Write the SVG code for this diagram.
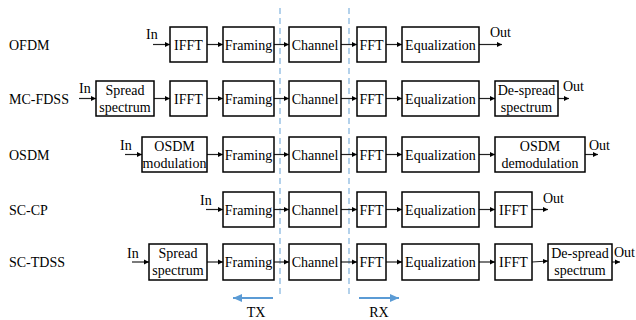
<svg xmlns="http://www.w3.org/2000/svg" width="636" height="320" viewBox="0 0 636 320" font-family="'Liberation Serif', 'Times New Roman', serif" font-size="14">
<defs>
<marker id="ah" markerWidth="6" markerHeight="6" refX="5" refY="3" orient="auto" markerUnits="userSpaceOnUse"><path d="M0,0.5 L5,3 L0,5.5 Z" fill="#000"/></marker>
<marker id="bh" markerWidth="10" markerHeight="8" refX="9" refY="4" orient="auto" markerUnits="userSpaceOnUse"><path d="M0,0 L9,4 L0,8 Z" fill="#5b9bd5"/></marker>
</defs>
<style>
text{font-family:'Liberation Serif','Times New Roman',serif;font-size:14px;fill:#000}
.c{text-anchor:middle}
.b{fill:#fff;stroke:#000;stroke-width:1.5}
.a{stroke:#222;stroke-width:1.2;fill:none;marker-end:url(#ah)}
.d{stroke:#8ab9e0;stroke-width:1.3;stroke-dasharray:6,4;fill:none}
.t{stroke:#5b9bd5;stroke-width:1.8;fill:none;marker-end:url(#bh)}
</style>
<rect width="636" height="320" fill="#fff"/>
<g id="labels">
<text x="9" y="50">OFDM</text>
<text x="9" y="104">MC-FDSS</text>
<text x="9" y="160">OSDM</text>
<text x="9" y="215">SC-CP</text>
<text x="9" y="267">SC-TDSS</text>
<text x="146" y="39">In</text><text x="490" y="37">Out</text>
<text x="79" y="93">In</text><text x="563" y="91">Out</text>
<text x="120" y="150">In</text><text x="589" y="150">Out</text>
<text x="200" y="205">In</text><text x="543" y="203">Out</text>
<text x="127" y="258">In</text><text x="614" y="257">Out</text>
<text x="256" y="317" class="c">TX</text>
<text x="379" y="317" class="c">RX</text>
</g>
<g id="guides">
<line class="d" x1="280" y1="8" x2="280" y2="294"/>
<line class="d" x1="349" y1="8" x2="349" y2="294"/>
<line class="t" x1="273" y1="298" x2="233" y2="298"/>
<line class="t" x1="359" y1="298" x2="399" y2="298"/>
</g>
<g id="connectors">
<line class="a" x1="153" y1="44.5" x2="170" y2="44.5"/>
<line class="a" x1="207" y1="44.5" x2="223" y2="44.5"/>
<line class="a" x1="274" y1="44.5" x2="289" y2="44.5"/>
<line class="a" x1="341" y1="44.5" x2="357" y2="44.5"/>
<line class="a" x1="386" y1="44.5" x2="402" y2="44.5"/>
<line class="a" x1="479" y1="44.5" x2="502" y2="44.5"/>

<line class="a" x1="79" y1="98.5" x2="96" y2="98.5"/>
<line class="a" x1="154" y1="98.5" x2="170" y2="98.5"/>
<line class="a" x1="207" y1="98.5" x2="223" y2="98.5"/>
<line class="a" x1="274" y1="98.5" x2="289" y2="98.5"/>
<line class="a" x1="341" y1="98.5" x2="357" y2="98.5"/>
<line class="a" x1="386" y1="98.5" x2="402" y2="98.5"/>
<line class="a" x1="479" y1="98.5" x2="495" y2="98.5"/>
<line class="a" x1="558" y1="98.5" x2="569" y2="98.5"/>

<line class="a" x1="125" y1="154.5" x2="142" y2="154.5"/>
<line class="a" x1="207" y1="154.5" x2="223" y2="154.5"/>
<line class="a" x1="274" y1="154.5" x2="289" y2="154.5"/>
<line class="a" x1="341" y1="154.5" x2="357" y2="154.5"/>
<line class="a" x1="386" y1="154.5" x2="402" y2="154.5"/>
<line class="a" x1="479" y1="154.5" x2="495" y2="154.5"/>
<line class="a" x1="585" y1="154.5" x2="598" y2="154.5"/>

<line class="a" x1="206" y1="209.5" x2="223" y2="209.5"/>
<line class="a" x1="274" y1="209.5" x2="289" y2="209.5"/>
<line class="a" x1="341" y1="209.5" x2="357" y2="209.5"/>
<line class="a" x1="386" y1="209.5" x2="402" y2="209.5"/>
<line class="a" x1="479" y1="209.5" x2="495" y2="209.5"/>
<line class="a" x1="532" y1="209.5" x2="548" y2="209.5"/>

<line class="a" x1="132" y1="262" x2="149" y2="262"/>
<line class="a" x1="207" y1="262" x2="223" y2="262"/>
<line class="a" x1="274" y1="262" x2="289" y2="262"/>
<line class="a" x1="341" y1="262" x2="357" y2="262"/>
<line class="a" x1="386" y1="262" x2="402" y2="262"/>
<line class="a" x1="479" y1="262" x2="495" y2="262"/>
<line class="a" x1="532" y1="262" x2="548" y2="261"/>
<line class="a" x1="612" y1="262" x2="620" y2="262"/>
</g>
<g id="ofdm-ifft"><rect class="b" x="170" y="27" width="37" height="35"/><text class="c" x="188.5" y="49.5">IFFT</text></g>
<g id="ofdm-framing"><rect class="b" x="223" y="27" width="51" height="35"/><text class="c" x="248.5" y="49.5">Framing</text></g>
<g id="ofdm-channel"><rect class="b" x="289" y="27" width="52" height="35"/><text class="c" x="315" y="49.5">Channel</text></g>
<g id="ofdm-fft"><rect class="b" x="357" y="27" width="29" height="35"/><text class="c" x="371.5" y="49.5">FFT</text></g>
<g id="ofdm-eq"><rect class="b" x="402" y="27" width="77" height="35"/><text class="c" x="440.5" y="49.5">Equalization</text></g>

<g id="mc-spread"><rect class="b" x="96" y="81" width="58" height="35"/><text class="c" x="125" y="95">Spread</text><text class="c" x="125" y="112">spectrum</text></g>
<g id="mc-ifft"><rect class="b" x="170" y="81" width="37" height="35"/><text class="c" x="188.5" y="103.5">IFFT</text></g>
<g id="mc-framing"><rect class="b" x="223" y="81" width="51" height="35"/><text class="c" x="248.5" y="103.5">Framing</text></g>
<g id="mc-channel"><rect class="b" x="289" y="81" width="52" height="35"/><text class="c" x="315" y="103.5">Channel</text></g>
<g id="mc-fft"><rect class="b" x="357" y="81" width="29" height="35"/><text class="c" x="371.5" y="103.5">FFT</text></g>
<g id="mc-eq"><rect class="b" x="402" y="81" width="77" height="35"/><text class="c" x="440.5" y="103.5">Equalization</text></g>
<g id="mc-despread"><rect class="b" x="495" y="81" width="63" height="35"/><text class="c" x="526.5" y="95">De-spread</text><text class="c" x="526.5" y="112">spectrum</text></g>

<g id="osdm-mod"><rect class="b" x="142" y="137" width="65" height="35"/><text class="c" x="174.5" y="151">OSDM</text><text class="c" x="174.5" y="168">modulation</text></g>
<g id="osdm-framing"><rect class="b" x="223" y="137" width="51" height="35"/><text class="c" x="248.5" y="159.5">Framing</text></g>
<g id="osdm-channel"><rect class="b" x="289" y="137" width="52" height="35"/><text class="c" x="315" y="159.5">Channel</text></g>
<g id="osdm-fft"><rect class="b" x="357" y="137" width="29" height="35"/><text class="c" x="371.5" y="159.5">FFT</text></g>
<g id="osdm-eq"><rect class="b" x="402" y="137" width="77" height="35"/><text class="c" x="440.5" y="159.5">Equalization</text></g>
<g id="osdm-demod"><rect class="b" x="495" y="137" width="90" height="35"/><text class="c" x="540" y="151">OSDM</text><text class="c" x="540" y="168">demodulation</text></g>

<g id="sccp-framing"><rect class="b" x="223" y="192" width="51" height="35"/><text class="c" x="248.5" y="214.5">Framing</text></g>
<g id="sccp-channel"><rect class="b" x="289" y="192" width="52" height="35"/><text class="c" x="315" y="214.5">Channel</text></g>
<g id="sccp-fft"><rect class="b" x="357" y="192" width="29" height="35"/><text class="c" x="371.5" y="214.5">FFT</text></g>
<g id="sccp-eq"><rect class="b" x="402" y="192" width="77" height="35"/><text class="c" x="440.5" y="214.5">Equalization</text></g>
<g id="sccp-ifft"><rect class="b" x="495" y="192" width="37" height="35"/><text class="c" x="513.5" y="214.5">IFFT</text></g>

<g id="sctdss-spread"><rect class="b" x="149" y="244" width="58" height="36"/><text class="c" x="178" y="258">Spread</text><text class="c" x="178" y="275">spectrum</text></g>
<g id="sctdss-framing"><rect class="b" x="223" y="244" width="51" height="36"/><text class="c" x="248.5" y="267">Framing</text></g>
<g id="sctdss-channel"><rect class="b" x="289" y="244" width="52" height="36"/><text class="c" x="315" y="267">Channel</text></g>
<g id="sctdss-fft"><rect class="b" x="357" y="244" width="29" height="36"/><text class="c" x="371.5" y="267">FFT</text></g>
<g id="sctdss-eq"><rect class="b" x="402" y="244" width="77" height="36"/><text class="c" x="440.5" y="267">Equalization</text></g>
<g id="sctdss-ifft"><rect class="b" x="495" y="244" width="37" height="36"/><text class="c" x="513.5" y="267">IFFT</text></g>
<g id="sctdss-despread"><rect class="b" x="548" y="244" width="64" height="36"/><text class="c" x="580" y="258">De-spread</text><text class="c" x="580" y="275">spectrum</text></g>
</svg>
